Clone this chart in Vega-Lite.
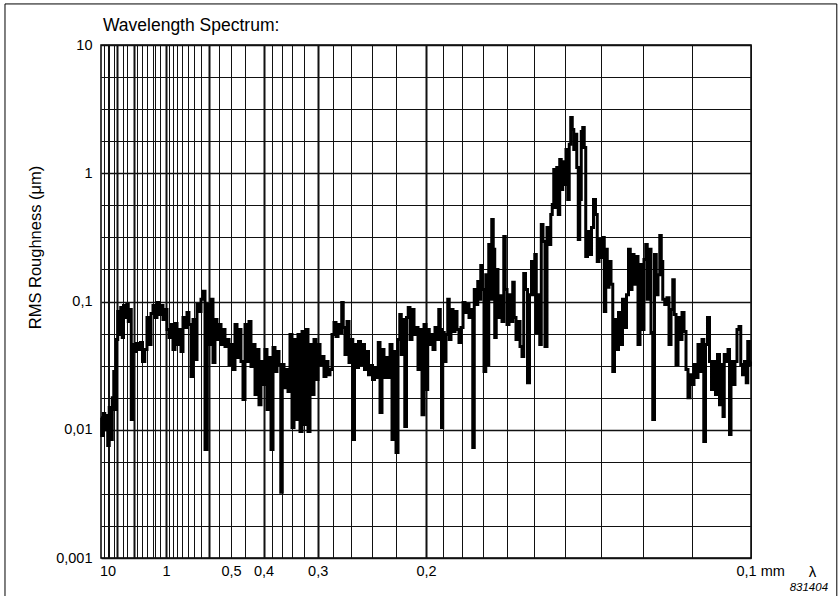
{
  "$schema": "https://vega.github.io/schema/vega-lite/v6.json",
  "width": 650,
  "height": 513,
  "autosize": "none",
  "padding": {"left": 101, "top": 45, "right": 88, "bottom": 38},
  "background": "white",
  "config": {"view": {"stroke": "black", "strokeWidth": 1.5}},
  "datasets": {
    "spectrum": [
      {"freq":0.000,"rms":0.0124},{"freq":0.023,"rms":0.00902},{"freq":0.046,"rms":0.0134},{"freq":0.069,"rms":0.0100},{"freq":0.092,"rms":0.0129},{"freq":0.115,"rms":0.00754},{"freq":0.138,"rms":0.0149},{"freq":0.162,"rms":0.00839},{"freq":0.185,"rms":0.0178},{"freq":0.208,"rms":0.0284},{"freq":0.231,"rms":0.0144},{"freq":0.246,"rms":0.0505},{"freq":0.269,"rms":0.0836},{"freq":0.292,"rms":0.0553},{"freq":0.315,"rms":0.0898},{"freq":0.338,"rms":0.0524},{"freq":0.354,"rms":0.0931},{"freq":0.385,"rms":0.0750},{"freq":0.408,"rms":0.0948},{"freq":0.431,"rms":0.0698},{"freq":0.454,"rms":0.0866},{"freq":0.477,"rms":0.0120},{"freq":0.500,"rms":0.0462},{"freq":0.531,"rms":0.0407},{"freq":0.562,"rms":0.0470},{"freq":0.592,"rms":0.0422},{"freq":0.623,"rms":0.0479},{"freq":0.654,"rms":0.0340},{"freq":0.692,"rms":0.0422},{"freq":0.723,"rms":0.0750},{"freq":0.754,"rms":0.0462},{"freq":0.785,"rms":0.0806},{"freq":0.815,"rms":0.0931},{"freq":0.846,"rms":0.0750},{"freq":0.877,"rms":0.0982},{"freq":0.908,"rms":0.0792},{"freq":0.938,"rms":0.0931},{"freq":0.969,"rms":0.0724},{"freq":1.000,"rms":0.0866},{"freq":1.031,"rms":0.0605},{"freq":1.062,"rms":0.0524},{"freq":1.092,"rms":0.0662},{"freq":1.123,"rms":0.0422},{"freq":1.154,"rms":0.0674},{"freq":1.185,"rms":0.0462},{"freq":1.215,"rms":0.0605},{"freq":1.246,"rms":0.0407},{"freq":1.277,"rms":0.0750},{"freq":1.308,"rms":0.0627},{"freq":1.338,"rms":0.0821},{"freq":1.369,"rms":0.0662},{"freq":1.400,"rms":0.0260},{"freq":1.431,"rms":0.0724},{"freq":1.462,"rms":0.0353},{"freq":1.492,"rms":0.0948},{"freq":1.523,"rms":0.0836},{"freq":1.554,"rms":0.104},{"freq":1.585,"rms":0.120},{"freq":1.615,"rms":0.00701},{"freq":1.654,"rms":0.0948},{"freq":1.685,"rms":0.0462},{"freq":1.708,"rms":0.104},{"freq":1.738,"rms":0.0334},{"freq":1.769,"rms":0.0724},{"freq":1.800,"rms":0.0505},{"freq":1.831,"rms":0.0662},{"freq":1.862,"rms":0.0462},{"freq":1.892,"rms":0.0605},{"freq":1.923,"rms":0.0446},{"freq":1.954,"rms":0.0505},{"freq":1.985,"rms":0.0322},{"freq":2.015,"rms":0.0462},{"freq":2.046,"rms":0.0295},{"freq":2.077,"rms":0.0662},{"freq":2.108,"rms":0.0366},{"freq":2.138,"rms":0.0605},{"freq":2.169,"rms":0.0340},{"freq":2.200,"rms":0.0172},{"freq":2.231,"rms":0.0662},{"freq":2.262,"rms":0.0340},{"freq":2.292,"rms":0.0698},{"freq":2.323,"rms":0.0311},{"freq":2.354,"rms":0.0462},{"freq":2.385,"rms":0.0188},{"freq":2.415,"rms":0.0422},{"freq":2.446,"rms":0.0157},{"freq":2.477,"rms":0.0340},{"freq":2.508,"rms":0.0225},{"freq":2.538,"rms":0.0422},{"freq":2.569,"rms":0.0144},{"freq":2.600,"rms":0.0366},{"freq":2.631,"rms":0.00701},{"freq":2.662,"rms":0.0438},{"freq":2.692,"rms":0.0284},{"freq":2.723,"rms":0.0407},{"freq":2.754,"rms":0.0322},{"freq":2.777,"rms":0.00325},{"freq":2.800,"rms":0.0322},{"freq":2.831,"rms":0.0213},{"freq":2.862,"rms":0.0295},{"freq":2.892,"rms":0.0199},{"freq":2.923,"rms":0.0553},{"freq":2.954,"rms":0.0104},{"freq":2.985,"rms":0.0505},{"freq":3.015,"rms":0.0120},{"freq":3.046,"rms":0.0553},{"freq":3.077,"rms":0.00969},{"freq":3.108,"rms":0.0583},{"freq":3.138,"rms":0.0110},{"freq":3.169,"rms":0.0605},{"freq":3.200,"rms":0.00969},{"freq":3.231,"rms":0.0462},{"freq":3.262,"rms":0.0188},{"freq":3.292,"rms":0.0505},{"freq":3.323,"rms":0.0246},{"freq":3.354,"rms":0.0462},{"freq":3.385,"rms":0.0322},{"freq":3.415,"rms":0.0372},{"freq":3.446,"rms":0.0260},{"freq":3.477,"rms":0.0340},{"freq":3.508,"rms":0.0269},{"freq":3.538,"rms":0.0295},{"freq":3.569,"rms":0.0553},{"freq":3.600,"rms":0.0686},{"freq":3.631,"rms":0.0533},{"freq":3.662,"rms":0.0662},{"freq":3.692,"rms":0.0573},{"freq":3.715,"rms":0.0982},{"freq":3.738,"rms":0.0627},{"freq":3.769,"rms":0.0386},{"freq":3.800,"rms":0.0698},{"freq":3.831,"rms":0.0334},{"freq":3.862,"rms":0.0505},{"freq":3.885,"rms":0.00839},{"freq":3.915,"rms":0.0462},{"freq":3.946,"rms":0.0306},{"freq":3.977,"rms":0.0487},{"freq":4.008,"rms":0.0322},{"freq":4.038,"rms":0.0462},{"freq":4.069,"rms":0.0295},{"freq":4.100,"rms":0.0407},{"freq":4.131,"rms":0.0269},{"freq":4.162,"rms":0.0317},{"freq":4.192,"rms":0.0246},{"freq":4.223,"rms":0.0306},{"freq":4.254,"rms":0.0255},{"freq":4.277,"rms":0.0479},{"freq":4.308,"rms":0.0136},{"freq":4.338,"rms":0.0422},{"freq":4.369,"rms":0.0255},{"freq":4.400,"rms":0.0366},{"freq":4.431,"rms":0.0255},{"freq":4.462,"rms":0.0462},{"freq":4.492,"rms":0.00839},{"freq":4.523,"rms":0.0407},{"freq":4.554,"rms":0.00665},{"freq":4.585,"rms":0.0505},{"freq":4.608,"rms":0.0792},{"freq":4.631,"rms":0.0386},{"freq":4.662,"rms":0.0724},{"freq":4.685,"rms":0.0106},{"freq":4.715,"rms":0.0750},{"freq":4.738,"rms":0.0898},{"freq":4.769,"rms":0.0505},{"freq":4.800,"rms":0.0866},{"freq":4.831,"rms":0.0553},{"freq":4.862,"rms":0.0627},{"freq":4.892,"rms":0.0295},{"freq":4.923,"rms":0.0605},{"freq":4.954,"rms":0.0131},{"freq":4.985,"rms":0.0662},{"freq":5.015,"rms":0.0206},{"freq":5.038,"rms":0.0605},{"freq":5.062,"rms":0.0462},{"freq":5.092,"rms":0.0553},{"freq":5.123,"rms":0.0422},{"freq":5.154,"rms":0.0627},{"freq":5.185,"rms":0.0505},{"freq":5.208,"rms":0.0866},{"freq":5.231,"rms":0.0605},{"freq":5.246,"rms":0.0104},{"freq":5.269,"rms":0.0573},{"freq":5.292,"rms":0.0340},{"freq":5.323,"rms":0.0553},{"freq":5.346,"rms":0.104},{"freq":5.369,"rms":0.0505},{"freq":5.400,"rms":0.0866},{"freq":5.431,"rms":0.0583},{"freq":5.462,"rms":0.0836},{"freq":5.492,"rms":0.0605},{"freq":5.523,"rms":0.0479},{"freq":5.554,"rms":0.0627},{"freq":5.585,"rms":0.0982},{"freq":5.615,"rms":0.0821},{"freq":5.646,"rms":0.0948},{"freq":5.677,"rms":0.0750},{"freq":5.708,"rms":0.0866},{"freq":5.731,"rms":0.00727},{"freq":5.754,"rms":0.124},{"freq":5.785,"rms":0.0948},{"freq":5.808,"rms":0.143},{"freq":5.831,"rms":0.104},{"freq":5.854,"rms":0.191},{"freq":5.877,"rms":0.124},{"freq":5.908,"rms":0.0284},{"freq":5.931,"rms":0.162},{"freq":5.954,"rms":0.0322},{"freq":5.977,"rms":0.278},{"freq":6.000,"rms":0.104},{"freq":6.023,"rms":0.436},{"freq":6.046,"rms":0.255},{"freq":6.069,"rms":0.0524},{"freq":6.092,"rms":0.178},{"freq":6.123,"rms":0.0750},{"freq":6.154,"rms":0.111},{"freq":6.185,"rms":0.0698},{"freq":6.208,"rms":0.321},{"freq":6.231,"rms":0.124},{"freq":6.262,"rms":0.0662},{"freq":6.292,"rms":0.113},{"freq":6.323,"rms":0.0698},{"freq":6.346,"rms":0.141},{"freq":6.369,"rms":0.0750},{"freq":6.400,"rms":0.0505},{"freq":6.431,"rms":0.0698},{"freq":6.462,"rms":0.0446},{"freq":6.492,"rms":0.0372},{"freq":6.515,"rms":0.165},{"freq":6.546,"rms":0.124},{"freq":6.577,"rms":0.0233},{"freq":6.608,"rms":0.113},{"freq":6.638,"rms":0.205},{"freq":6.662,"rms":0.113},{"freq":6.685,"rms":0.233},{"freq":6.708,"rms":0.0573},{"freq":6.738,"rms":0.113},{"freq":6.762,"rms":0.0462},{"freq":6.785,"rms":0.399},{"freq":6.815,"rms":0.294},{"freq":6.846,"rms":0.0446},{"freq":6.877,"rms":0.378},{"freq":6.908,"rms":0.278},{"freq":6.931,"rms":0.477},{"freq":6.954,"rms":0.571},{"freq":6.977,"rms":1.07},{"freq":7.000,"rms":0.541},{"freq":7.023,"rms":1.11},{"freq":7.046,"rms":0.477},{"freq":7.069,"rms":1.28},{"freq":7.092,"rms":0.748},{"freq":7.115,"rms":1.23},{"freq":7.138,"rms":0.818},{"freq":7.169,"rms":1.53},{"freq":7.192,"rms":0.625},{"freq":7.215,"rms":1.68},{"freq":7.238,"rms":2.72},{"freq":7.262,"rms":2.19},{"freq":7.285,"rms":1.53},{"freq":7.308,"rms":2.01},{"freq":7.331,"rms":1.11},{"freq":7.354,"rms":0.305},{"freq":7.377,"rms":0.625},{"freq":7.400,"rms":2.12},{"freq":7.423,"rms":2.27},{"freq":7.446,"rms":1.59},{"freq":7.469,"rms":0.224},{"freq":7.500,"rms":0.352},{"freq":7.531,"rms":0.233},{"freq":7.562,"rms":0.378},{"freq":7.592,"rms":0.625},{"freq":7.623,"rms":0.477},{"freq":7.646,"rms":0.205},{"freq":7.677,"rms":0.305},{"freq":7.708,"rms":0.220},{"freq":7.731,"rms":0.316},{"freq":7.754,"rms":0.0836},{"freq":7.777,"rms":0.255},{"freq":7.800,"rms":0.129},{"freq":7.831,"rms":0.205},{"freq":7.862,"rms":0.136},{"freq":7.885,"rms":0.0284},{"freq":7.915,"rms":0.0724},{"freq":7.946,"rms":0.0422},{"freq":7.977,"rms":0.0821},{"freq":8.008,"rms":0.0462},{"freq":8.038,"rms":0.104},{"freq":8.069,"rms":0.0627},{"freq":8.100,"rms":0.113},{"freq":8.131,"rms":0.255},{"freq":8.154,"rms":0.124},{"freq":8.185,"rms":0.233},{"freq":8.215,"rms":0.136},{"freq":8.246,"rms":0.224},{"freq":8.277,"rms":0.0462},{"freq":8.308,"rms":0.194},{"freq":8.338,"rms":0.0605},{"freq":8.369,"rms":0.213},{"freq":8.392,"rms":0.278},{"freq":8.415,"rms":0.104},{"freq":8.446,"rms":0.255},{"freq":8.477,"rms":0.0573},{"freq":8.500,"rms":0.0120},{"freq":8.531,"rms":0.233},{"freq":8.554,"rms":0.113},{"freq":8.585,"rms":0.162},{"freq":8.608,"rms":0.327},{"freq":8.631,"rms":0.205},{"freq":8.654,"rms":0.104},{"freq":8.692,"rms":0.0948},{"freq":8.723,"rms":0.107},{"freq":8.754,"rms":0.0462},{"freq":8.785,"rms":0.0866},{"freq":8.808,"rms":0.148},{"freq":8.831,"rms":0.0792},{"freq":8.862,"rms":0.0322},{"freq":8.892,"rms":0.0750},{"freq":8.923,"rms":0.0505},{"freq":8.954,"rms":0.0821},{"freq":8.985,"rms":0.0583},{"freq":9.015,"rms":0.0295},{"freq":9.046,"rms":0.0178},{"freq":9.077,"rms":0.0269},{"freq":9.108,"rms":0.0225},{"freq":9.138,"rms":0.0322},{"freq":9.169,"rms":0.0255},{"freq":9.200,"rms":0.0462},{"freq":9.231,"rms":0.0284},{"freq":9.262,"rms":0.0505},{"freq":9.285,"rms":0.00810},{"freq":9.315,"rms":0.0462},{"freq":9.346,"rms":0.0750},{"freq":9.377,"rms":0.0340},{"freq":9.408,"rms":0.0206},{"freq":9.438,"rms":0.0340},{"freq":9.469,"rms":0.0188},{"freq":9.500,"rms":0.0386},{"freq":9.531,"rms":0.0157},{"freq":9.562,"rms":0.0322},{"freq":9.577,"rms":0.0127},{"freq":9.600,"rms":0.0386},{"freq":9.631,"rms":0.0340},{"freq":9.662,"rms":0.0422},{"freq":9.677,"rms":0.00918},{"freq":9.708,"rms":0.0340},{"freq":9.738,"rms":0.0225},{"freq":9.769,"rms":0.0340},{"freq":9.800,"rms":0.0605},{"freq":9.831,"rms":0.0638},{"freq":9.854,"rms":0.0322},{"freq":9.885,"rms":0.0269},{"freq":9.915,"rms":0.0340},{"freq":9.938,"rms":0.0233},{"freq":9.962,"rms":0.0487},{"freq":9.985,"rms":0.0322},{"freq":10.000,"rms":0.0340}
    ],
    "note": [{"code": "831404"}],
    "heading": [{"text": "Wavelength Spectrum:"}]
  },
  "layer": [
    {
      "data": {"name": "spectrum"},
      "mark": {"type": "line", "interpolate": "step", "color": "black", "strokeWidth": 3, "strokeJoin": "miter"},
      "encoding": {
        "x": {
          "field": "freq", "type": "quantitative",
          "scale": {"type": "linear", "domain": [0, 10], "nice": false, "zero": false},
          "axis": {
            "values": [0.05, 0.1, 0.125, 0.2, 0.25, 0.3333333, 0.4, 0.5, 0.5555556, 0.625, 0.7142857, 0.8, 0.8333333, 0.9090909, 1, 1.0526316, 1.1111111, 1.1764706, 1.25, 1.3333333, 1.4285714, 1.5384615, 1.6666667, 1.8181818, 2, 2.2222222, 2.5, 2.6315789, 2.7777778, 2.9411765, 3.125, 3.3333333, 3.5714286, 3.8461538, 4.1666667, 4.5454545, 5, 5.2631579, 5.5555556, 5.8823529, 6.25, 6.6666667, 7.1428571, 7.6923077, 8.3333333, 9.0909091, 10],
            "tickCount": 200,
            "labelExpr": "datum.value == 0.1 ? '10' : datum.value == 1 ? '1' : datum.value == 2 ? '0,5' : datum.value == 2.5 ? '0,4' : datum.value == 3.3333333 ? '0,3' : datum.value == 5 ? '0,2' : datum.value == 10 ? '0,1 mm' : ''",
            "labelOverlap": false,
            "labelFlush": false,
            "labelBound": false,
            "ticks": false,
            "tickSize": 0,
            "domain": false,
            "labelPadding": 6,
            "labelFont": "Liberation Sans",
            "labelFontSize": 14.5,
            "labelColor": "black",
            "labelAlign": {"condition": {"test": "datum.value == 10", "value": "left"}, "value": "center"},
            "labelOffset": {"condition": {"test": "datum.value == 10", "value": -15}, "value": 0},
            "grid": true,
            "gridColor": "#111111",
            "gridOpacity": 1,
            "gridWidth": {"condition": {"test": "indexof([0.25, 0.5, 1, 1.6666667, 2.5, 3.3333333, 5], datum.value) >= 0", "value": 2}, "value": 1},
            "title": "λ",
            "titleFont": "Liberation Sans",
            "titleFontSize": 15,
            "titleFontWeight": "normal",
            "titleColor": "black",
            "titleX": 711,
            "titleY": 18,
            "titleAlign": "center",
            "titleBaseline": "alphabetic"
          }
        },
        "y": {
          "field": "rms", "type": "quantitative",
          "scale": {"type": "log", "domain": [0.001, 10], "nice": false},
          "axis": {
            "values": [0.001, 0.0017783, 0.0031623, 0.0056234, 0.01, 0.017783, 0.031623, 0.056234, 0.1, 0.17783, 0.31623, 0.56234, 1, 1.7783, 3.1623, 5.6234, 10],
            "tickCount": 200,
            "labelExpr": "datum.value == 0.001 ? '0,001' : datum.value == 0.01 ? '0,01' : datum.value == 0.1 ? '0,1' : datum.value == 1 ? '1' : datum.value == 10 ? '10' : ''",
            "labelOverlap": false,
            "labelFlush": false,
            "labelBound": false,
            "ticks": false,
            "tickSize": 0,
            "domain": false,
            "labelPadding": 9,
            "labelFont": "Liberation Sans",
            "labelFontSize": 14.5,
            "labelColor": "black",
            "grid": true,
            "gridColor": "#111111",
            "gridOpacity": 1,
            "gridWidth": {"condition": {"test": "indexof([0.001, 0.01, 0.1, 1, 10], datum.value) >= 0", "value": 1.6}, "value": 1.1},
            "title": "RMS Roughness (μm)",
            "titleFont": "Liberation Sans",
            "titleFontSize": 16.5,
            "titleFontWeight": "normal",
            "titleColor": "black",
            "titleAngle": -90,
            "titleX": -66,
            "titleY": 202,
            "titleAlign": "center",
            "titleBaseline": "middle",
            "titleLimit": 400
          }
        }
      }
    },
    {
      "data": {"name": "heading"},
      "mark": {"type": "text", "font": "Liberation Sans", "fontSize": 17.5, "color": "black", "align": "left", "baseline": "alphabetic"},
      "encoding": {
        "x": {"datum": 0.03},
        "y": {"datum": 12.86},
        "text": {"field": "text"}
      }
    },
    {
      "data": {"name": "note"},
      "mark": {"type": "text", "font": "Liberation Sans", "fontSize": 11.5, "fontStyle": "italic", "color": "black", "align": "center", "baseline": "alphabetic"},
      "encoding": {
        "x": {"datum": 10.89},
        "y": {"datum": 0.000553},
        "text": {"field": "code"}
      }
    },
    {
      "data": {"values": [{"frame": 1}]},
      "mark": {"type": "rect", "fill": "transparent", "stroke": "black", "strokeWidth": 1},
      "encoding": {
        "x": {"datum": -1.477},
        "x2": {"datum": 11.32},
        "y": {"datum": 20.9},
        "y2": {"datum": 0.00047}
      }
    }
  ]
}
